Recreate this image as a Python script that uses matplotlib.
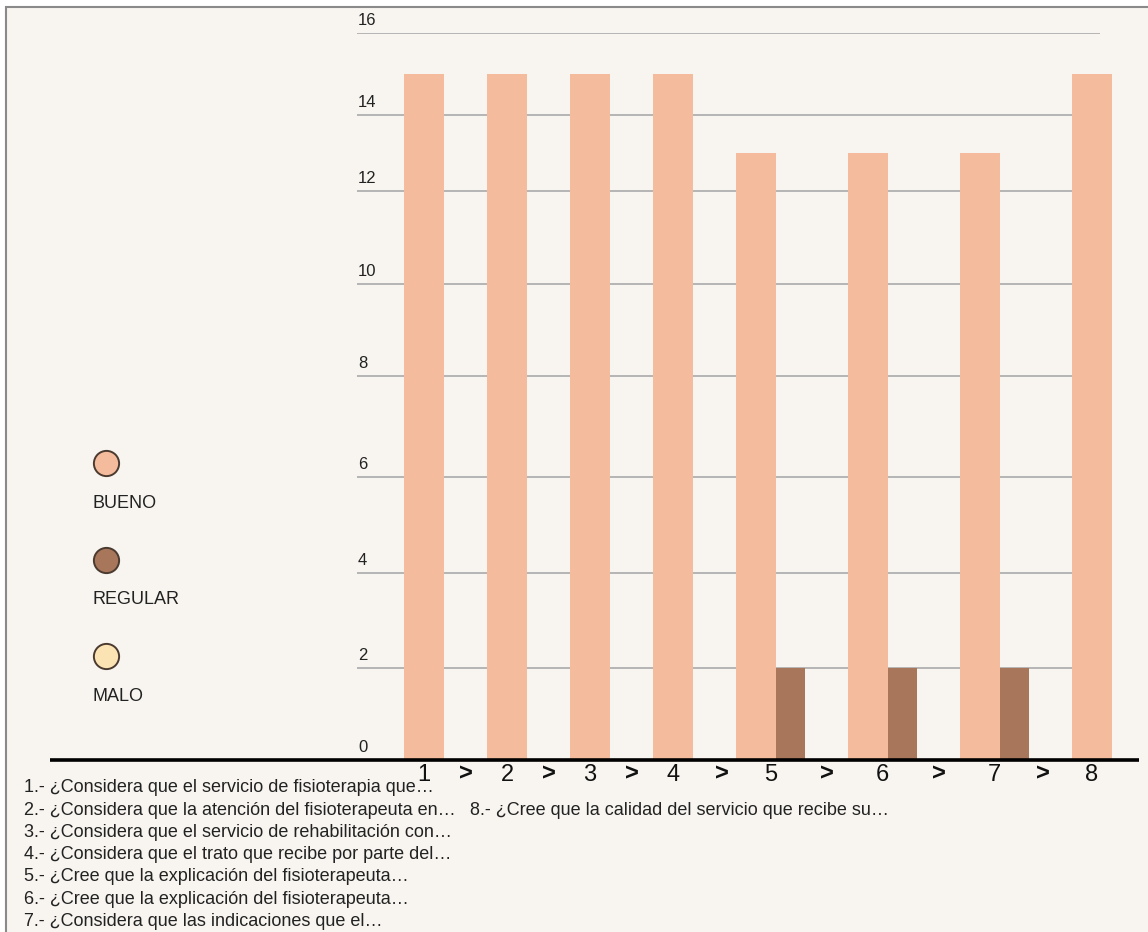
import numpy as np
import matplotlib
matplotlib.use("Agg")
import matplotlib.pyplot as plt
from matplotlib.patches import Rectangle

# ---------------- data ----------------
categories = ["1", "2", "3", "4", "5", "6", "7", "8"]
series_names = ["BUENO", "REGULAR", "MALO"]
bueno = [15, 15, 15, 15, 13, 13, 13, 15]
regular = [0, 0, 0, 0, 2, 2, 2, 0]
malo = [0, 0, 0, 0, 0, 0, 0, 0]
y_ticks = [0, 2, 4, 6, 8, 10, 12, 14, 16]
question_labels = [
    "1.- ¿Considera que el servicio de fisioterapia que…",
    "2.- ¿Considera que la atención del fisioterapeuta en…",
    "3.- ¿Considera que el servicio de rehabilitación con…",
    "4.- ¿Considera que el trato que recibe por parte del…",
    "5.- ¿Cree que la explicación del fisioterapeuta…",
    "6.- ¿Cree que la explicación del fisioterapeuta…",
    "7.- ¿Considera que las indicaciones que el…",
    "8.- ¿Cree que la calidad del servicio que recibe su…",
]

# ---------------- style / layout ----------------
W, H = 1148, 932
colors = ["#f4bc9c", "#a8765a", "#fbe3b3"]
bar_widths = [40, 29, 29]
bar_start, bar_gap = 404, 43
bg = "#f8f5f0"
font = ["Liberation Sans", "DejaVu Sans"]
plt.rcParams["font.family"] = font

# pixel rows of the (distorted) gridlines in the picture, used to calibrate the y scale
grid_px = [760, 668, 573, 476.5, 376, 283.5, 191, 114.5, 32.5]
ax_top_px, ax_bot_px = grid_px[-1], grid_px[0]
frac = [(ax_bot_px - p) / (ax_bot_px - ax_top_px) for p in grid_px]

series = [bueno, regular, malo]

fig = plt.figure(figsize=(W / 100, H / 100), dpi=100, facecolor="white")

# overlay for frame, legend and notes (pixel coordinates)
ov = fig.add_axes([0, 0, 1, 1], zorder=0)
ov.set_xlim(0, W)
ov.set_ylim(H, 0)
ov.axis("off")
ov.add_patch(Rectangle((6, 7), W, H, facecolor=bg, edgecolor="#8a8a8a", lw=1.5))

# main chart axes
ax = fig.add_axes([0, (H - ax_bot_px) / H, 1, (ax_bot_px - ax_top_px) / H], zorder=1)
ax.patch.set_alpha(0)
ax.set_yscale("function", functions=(lambda v: np.interp(v, y_ticks, frac),
                                      lambda f: np.interp(f, frac, y_ticks)))
ax.set_xlim(0, W)
ax.set_ylim(y_ticks[0], y_ticks[-1])
for s in ax.spines.values():
    s.set_visible(False)
ax.set_xticks([])
ax.set_yticks([])

# gridlines and y labels
ax.hlines(y_ticks[1:], 357, 1100, color="#b0b0b0", lw=1.3, zorder=1)
for v in y_ticks:
    ax.annotate(str(v), (358, v), xytext=(0, 3.5), textcoords="offset points",
                ha="left", va="bottom", fontsize=12, color="#222222")

# bars
x = bar_start
centers = []
for i in range(len(categories)):
    present = [k for k in range(len(series)) if series[k][i] > 0]
    left = x
    for k in present:
        ax.bar(left, series[k][i], width=bar_widths[k], align="edge",
               color=colors[k], zorder=2, linewidth=0)
        left += bar_widths[k]
    gw = left - x
    centers.append(x + gw / 2)
    x += gw + bar_gap

# baseline
ax.hlines(0, 50, 1139, color="black", lw=2.6, zorder=3, clip_on=False)

# category labels and separators
for c, lab in zip(centers, categories):
    ax.annotate(lab, (c, 0), xytext=(0, -10.5), textcoords="offset points",
                ha="center", va="center", fontsize=17, color="#111111",
                annotation_clip=False)
for a, b in zip(centers[:-1], centers[1:]):
    ax.annotate(">", ((a + b) / 2, 0), xytext=(0, -10), textcoords="offset points",
                ha="center", va="center", fontsize=17, fontweight="bold",
                color="#111111", annotation_clip=False)

# legend
for k, name in enumerate(series_names):
    cy = 463 + k * 96.5
    ov.scatter([106], [cy], s=330, color=colors[k], edgecolors="#4a3a30",
               linewidths=1.4, zorder=3)
    ov.text(93, cy + 40.5, name, fontsize=13, va="center", ha="left", color="#222222")

# question notes
rows_per_col = 7
col_x = [24, 470]
col_row_offset = [0, 1]
for i, q in enumerate(question_labels):
    col, row = divmod(i, rows_per_col)
    y = 788 + (row + col_row_offset[col]) * 22.2
    ov.text(col_x[col], y, q, fontsize=13, va="center", ha="left", color="#222222")

fig.savefig("out.png", dpi=100, facecolor="white")
